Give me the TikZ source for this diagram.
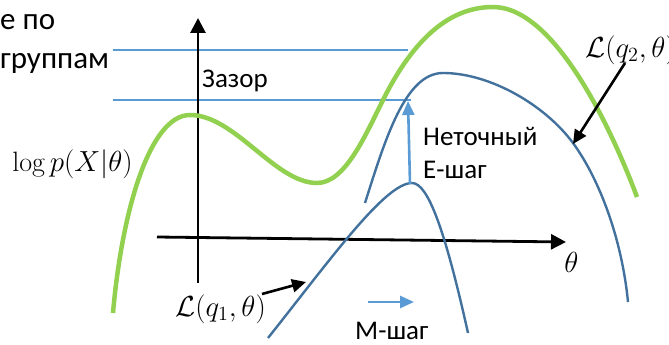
\documentclass[tikz,border=0pt]{standalone}
\usepackage{fontspec}
\newfontfamily\rufont{Carlito}
\usetikzlibrary{arrows.meta}
\definecolor{lgreen}{HTML}{92D050}
\definecolor{dblue}{HTML}{41719C}
\definecolor{lblue}{HTML}{5B9BD5}
\begin{document}
\begin{tikzpicture}[x=1pt,y=-1pt,
  rutext/.style={font=\rufont\fontsize{27}{32}\selectfont, inner sep=0pt, anchor=base west},
  bigru/.style={font=\rufont\fontsize{31}{36}\selectfont, inner sep=0pt, anchor=base west},
  mathtext/.style={font=\fontsize{20}{24}\selectfont, scale=1.4, inner sep=0pt, anchor=base west},
  axisline/.style={black, line width=2.8pt, -{Triangle[length=15pt,width=15pt]}},
  pointer/.style={black, line width=2.6pt, -{Triangle[length=14pt,width=13pt]}},
  stepar/.style={lblue, line width=2.6pt, -{Triangle[length=14pt,width=12pt]}},
  guide/.style={lblue, line width=1.2pt},
  gcurve/.style={lgreen, line width=4.5pt},
  bcurve/.style={dblue, line width=2.4pt}]
\useasboundingbox (0,0) rectangle (669,345);
\clip (0,0) rectangle (669,345);

% guide lines
\coordinate (g1a) at (113,50);  \coordinate (g1b) at (408,50);
\coordinate (g2a) at (113,100); \coordinate (g2b) at (411,100);
\draw[guide] (g1a) -- (g1b);
\draw[guide] (g2a) -- (g2b);

% axes
\coordinate (yb) at (198,283); \coordinate (yt) at (198,18);
\coordinate (xl) at (157,237); \coordinate (xr) at (566,242);
\draw[axisline] (yb) -- (yt);
\draw[axisline] (xl) -- (xr);

% green curve log p(X|theta)
\draw[gcurve] (113,313) .. controls (122,210) and (150,115) .. (190,115)
  .. controls (235,115) and (275,183) .. (317,183)
  .. controls (345,183) and (365,136) .. (383,100)
  .. controls (410,46) and (445,7) .. (493,7)
  .. controls (555,7) and (612,130) .. (637,197);

% blue curve L(q1,theta)
\draw[bcurve] (268,338) .. controls (330,260) and (385,183) .. (412,183)
  .. controls (428,183) and (445,230) .. (468,333);

% blue curve L(q2,theta)
\draw[bcurve] (365,203) .. controls (385,140) and (405,73) .. (443,73)
  .. controls (490,73) and (545,105) .. (573,143)
  .. controls (600,180) and (622,240) .. (628,302);

% step arrows
\coordinate (es) at (410,184); \coordinate (ee) at (408,101);
\draw[stepar] (es) -- (ee);
\coordinate (ms) at (368,302); \coordinate (me) at (414,302);
\draw[stepar] (ms) -- (me);

% texts
\node[bigru] (t1) at (0,30) {е по};
\node[bigru] (t2) at (0,68) {группам};
\node[rutext] (gap) at (202,88) {Зазор};
\node[rutext] (ne) at (423,145) {Неточный};
\node[rutext] (es2) at (423,178) {Е-шаг};
\node[rutext] (ms2) at (355,339) {М-шаг};

\node[mathtext] (logp) at (12,171) {$\log p(X|\theta)$};
\node[mathtext] (lq1) at (175,316) {$\mathcal{L}(q_1,\theta)$};
\node[mathtext] (lq2) at (585,57) {$\mathcal{L}(q_2,\theta)$};
\node[mathtext] (th) at (564,272) {$\theta$};

% pointers
\coordinate (p1s) at (262,294); \coordinate (p1e) at (306,282);
\draw[pointer] (p1s) -- (p1e);
\coordinate (p2s) at (625,63); \coordinate (p2e) at (573,144);
\draw[pointer] (p2s) -- (p2e);
\end{tikzpicture}
\end{document}
